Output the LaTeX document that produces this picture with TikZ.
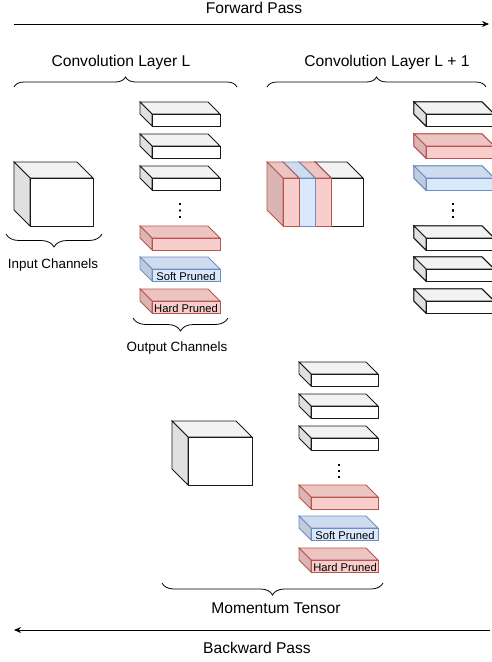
\documentclass[tikz,border=0pt]{standalone}
\usepackage{fontspec}
\setmainfont{Liberation Sans}
\usetikzlibrary{arrows.meta,decorations.pathreplacing}
\definecolor{weissfill}{HTML}{FFFFFF}
\definecolor{weissline}{HTML}{1A1A1A}
\definecolor{rotfill}{HTML}{F8CECC}
\definecolor{rotline}{HTML}{B85450}
\definecolor{blaufill}{HTML}{DAE8FC}
\definecolor{blauline}{HTML}{6C8EBF}
\tikzset{
	gross/.style={font=\fontsize{15.6}{18}\selectfont,anchor=base,inner sep=0pt},
	mittel/.style={font=\fontsize{13.4}{16}\selectfont,anchor=base,inner sep=0pt},
	klein/.style={font=\fontsize{11.2}{13}\selectfont,anchor=base,inner sep=0pt},
	klammer/.style={decorate,decoration={brace,amplitude=#1},line width=0.8pt},
	klammerunten/.style={decorate,decoration={brace,mirror,amplitude=#1},line width=0.8pt},
	pfeil/.style={line width=0.8pt,-{Stealth[length=7pt,width=6pt]}}
}
\begin{document}
\begin{tikzpicture}[x=1pt,y=-1pt]
		\useasboundingbox (0,0) rectangle (492,662);
		% Quader: vorne oben links (#1,#2), Breite, Hoehe, Tiefe, Farbe
		\def\quader#1#2#3#4#5#6{
			\filldraw[line width=0.9pt,draw=#6line,fill=#6fill!95!black] (#1,#2) -- ++(#3,0) -- ++(-#5,-#5) -- ++(-#3,0) -- cycle;
			\filldraw[line width=0.9pt,draw=#6line,fill=#6fill!88!black] (#1,#2) -- ++(-#5,-#5) -- ++(0,#4) -- ++(#5,#5) -- cycle;
			\filldraw[line width=0.9pt,draw=#6line,fill=#6fill] (#1,#2) rectangle ++(#3,#4);
		}
		% Pfeil oben: Vorwaerts
		\node[gross] (vorwaerts) at (254,13) {Forward Pass};
		\coordinate (vstart) at (14,24);
		\coordinate (vende) at (489,24);
		\draw[pfeil] (vstart) -- (vende);
		% Schichten mit Klammern
		\node[gross] (schichtL) at (121,66) {Convolution Layer L};
		\node[gross] (schichtLL) at (387,66) {Convolution Layer L + 1};
		\draw[klammer=10] (14,87) -- (237,87);
		\draw[klammer=10] (267,87) -- (486,87);
		% Eingabe
		\quader{30}{178}{63}{48}{16}{weiss}
		\draw[klammerunten=13] (6,234) -- (102,234);
		\node[mittel] (eingabe) at (53,268) {Input Channels};
		% Ausgabekanaele Schicht L
		\foreach \y/\farbe in {114/weiss,146/weiss,178/weiss,238/rot,269/blau,301/rot}
		\quader{152}{\y}{68}{12}{12}{\farbe}
		\foreach \y in {204,210.5,217}
		\fill (180,\y) circle (0.9pt);
		\node[klein] (weichL) at (186,280) {Soft Pruned};
		\node[klein] (hartL) at (186,312) {Hard Pruned};
		\draw[klammerunten=13] (133,318) -- (228,318);
		\node[mittel] (ausgabe) at (177,351) {Output Channels};
		% Block Schicht L + 1 (von rechts nach links)
		\foreach \x/\b/\farbe in {331/32/weiss,315/16/rot,299/16/blau,283/16/rot}
		\quader{\x}{178}{\b}{48}{16}{\farbe}
		% Kanaele Schicht L + 1
		\foreach \y/\farbe in {114/weiss,146/rot,178/blau,238/weiss,269/weiss,301/weiss}
		\quader{426}{\y}{68}{12}{12}{\farbe}
		\foreach \y in {204,210.5,217}
		\fill (453,\y) circle (0.9pt);
		% Momentum Tensor
		\quader{188}{437}{64}{48}{16}{weiss}
		\foreach \y/\farbe in {374/weiss,406/weiss,438/weiss,497/rot,528/blau,560/rot}
		\quader{311}{\y}{67}{12}{12}{\farbe}
		\foreach \y in {465,471,477}
		\fill (339,\y) circle (0.9pt);
		\node[klein] (weichM) at (345,539) {Soft Pruned};
		\node[klein] (hartM) at (345,571) {Hard Pruned};
		\draw[klammerunten=12] (162,583) -- (383,583);
		\node[gross] (momentum) at (276,613) {Momentum Tensor};
		% Pfeil unten: Rueckwaerts
		\coordinate (rstart) at (490,630);
		\coordinate (rende) at (14,630);
		\draw[pfeil] (rstart) -- (rende);
		\node[gross] (rueckwaerts) at (257,653) {Backward Pass};
	\end{tikzpicture}
\end{document}
